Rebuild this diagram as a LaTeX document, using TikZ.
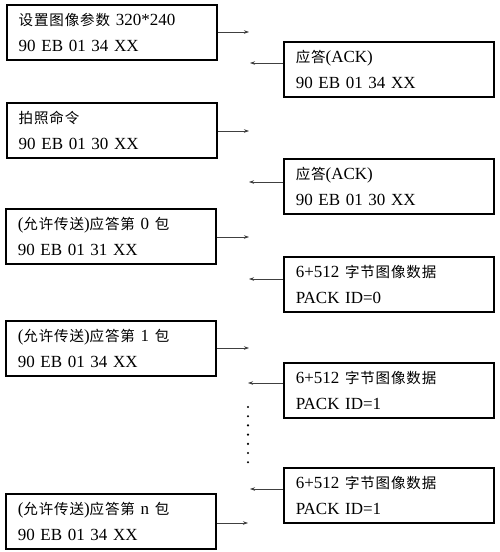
\documentclass[tikz,border=0pt]{standalone}
\usepackage{fontspec}
\setmainfont{Liberation Serif}
\newfontfamily\cjkfont[LetterSpace=6]{Noto Sans CJK SC}
\newcommand{\zh}[1]{{\cjkfont\fontsize{14.5}{26}\selectfont #1}}
\usetikzlibrary{arrows.meta}
\tikzset{
  msgbox/.style={draw, line width=1.5pt, rectangle, anchor=north west,
    minimum width=210pt, minimum height=55pt, text width=186pt,
    inner xsep=12pt, inner ysep=0pt, align=left,
    font=\fontsize{17}{26.5}\selectfont},
  sendarrow/.style={draw=black!75, line width=0.6pt, -{Stealth[length=5pt,width=3.5pt]}},
  dotmark/.style={circle, fill=black, inner sep=0pt, minimum size=2.4pt}
}
\begin{document}
\begin{tikzpicture}[x=1pt,y=-1pt]
\useasboundingbox (0,0) rectangle (500,552);
% left boxes
\node[msgbox] (l1) at (6,4) {\zh{设置图像参数} 320*240\\90 EB 01 34 XX};
\node[msgbox] (l2) at (6,102) {\zh{拍照命令}\\90 EB 01 30 XX};
\node[msgbox] (l3) at (5,208) {(\zh{允许传送})\zh{应答第} 0 \zh{包}\\90 EB 01 31 XX};
\node[msgbox] (l4) at (5,320) {(\zh{允许传送})\zh{应答第} 1 \zh{包}\\90 EB 01 34 XX};
\node[msgbox] (l5) at (5,493) {(\zh{允许传送})\zh{应答第} n \zh{包}\\90 EB 01 34 XX};
% right boxes
\node[msgbox] (r1) at (283,41) {\zh{应答}(ACK)\\90 EB 01 34 XX};
\node[msgbox] (r2) at (283,158) {\zh{应答}(ACK)\\90 EB 01 30 XX};
\node[msgbox] (r3) at (283,256) {6+512 \zh{字节图像数据}\\PACK ID=0};
\node[msgbox] (r4) at (283,362) {6+512 \zh{字节图像数据}\\PACK ID=1};
\node[msgbox] (r5) at (283,467) {6+512 \zh{字节图像数据}\\PACK ID=1};
% arrow end coordinates
\coordinate (a1) at (249,32);
\coordinate (a2) at (249,131);
\coordinate (a3) at (249,237);
\coordinate (a4) at (249,348);
\coordinate (a5) at (248,523);
\coordinate (b1) at (250,63);
\coordinate (b2) at (249,182);
\coordinate (b3) at (249,279);
\coordinate (b4) at (248,383);
\coordinate (b5) at (250,489);
\draw[sendarrow] (l1.east |- a1) -- (a1);
\draw[sendarrow] (l2.east |- a2) -- (a2);
\draw[sendarrow] (l3.east |- a3) -- (a3);
\draw[sendarrow] (l4.east |- a4) -- (a4);
\draw[sendarrow] (l5.east |- a5) -- (a5);
\draw[sendarrow] (r1.west |- b1) -- (b1);
\draw[sendarrow] (r2.west |- b2) -- (b2);
\draw[sendarrow] (r3.west |- b3) -- (b3);
\draw[sendarrow] (r4.west |- b4) -- (b4);
\draw[sendarrow] (r5.west |- b5) -- (b5);
% ellipsis dots
\foreach \i in {0,...,6} {
  \node[dotmark] (d\i) at (248,407+9.2*\i) {};
}
\end{tikzpicture}
\end{document}
